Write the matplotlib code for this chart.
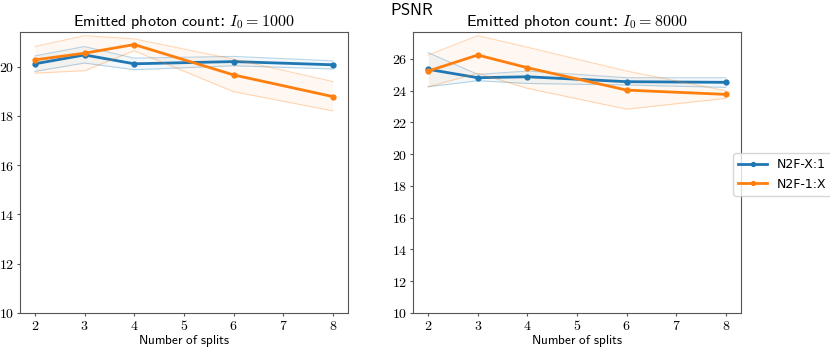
import matplotlib
matplotlib.use("Agg")
import matplotlib.pyplot as plt
from matplotlib.ticker import FuncFormatter

plt.rcParams['mathtext.fontset'] = 'cm'

# ---------------------------------------------------------------------------
# data
# ---------------------------------------------------------------------------
splits = [2, 3, 4, 6, 8]

# I0 = 1000
xto1_1000 = [20.11, 20.47, 20.11, 20.20, 20.07]
xto1_1000_hi = [20.43, 20.81, 20.34, 20.41, 20.23]
xto1_1000_lo = [19.80, 20.14, 19.87, 20.03, 19.90]
oneto_x_1000 = [20.27, 20.54, 20.89, 19.66, 18.78]
oneto_x_1000_hi = [20.81, 21.25, 21.12, 20.30, 19.39]
oneto_x_1000_lo = [19.73, 19.83, 20.64, 18.98, 18.20]

# I0 = 8000
xto1_8000 = [25.35, 24.82, 24.88, 24.57, 24.53]
xto1_8000_hi = [26.40, 25.03, 25.24, 24.82, 24.82]
xto1_8000_lo = [24.25, 24.63, 24.46, 24.36, 24.21]
oneto_x_8000 = [25.24, 26.25, 25.45, 24.04, 23.77]
oneto_x_8000_hi = [26.25, 27.47, 26.74, 25.24, 24.00]
oneto_x_8000_lo = [24.25, 25.10, 24.15, 22.84, 23.52]

labels = ['N2F-X:1', 'N2F-1:X']
titles = [r'$\mathsf{Emitted\ photon\ count}$: $I_0 = 1000$',
          r'$\mathsf{Emitted\ photon\ count}$: $I_0 = 8000$']
ylims = [(10, 21.4), (10, 27.7)]

BLUE = '#1f77b4'
ORANGE = '#ff7f0e'
SPINE = '#555555'

fig = plt.figure(figsize=(8.3, 3.47), dpi=100)
ax1 = fig.add_axes([20 / 830, 34 / 347, 327.7 / 830, 281 / 347])
ax2 = fig.add_axes([413.3 / 830, 34 / 347, 327.4 / 830, 281 / 347])

panels = [
    (ax1, [(xto1_1000, xto1_1000_lo, xto1_1000_hi),
           (oneto_x_1000, oneto_x_1000_lo, oneto_x_1000_hi)]),
    (ax2, [(xto1_8000, xto1_8000_lo, xto1_8000_hi),
           (oneto_x_8000, oneto_x_8000_lo, oneto_x_8000_hi)]),
]

handles = []
for i, (ax, series) in enumerate(panels):
    for (mean, lo, hi), color, label in zip(series, [BLUE, ORANGE], labels):
        ax.fill_between(splits, lo, hi, color=color, alpha=0.05, linewidth=0)
        ax.plot(splits, lo, color=color, alpha=0.3, linewidth=0.8)
        ax.plot(splits, hi, color=color, alpha=0.3, linewidth=0.8)
        line, = ax.plot(splits, mean, color=color, linewidth=2,
                        marker='o', markersize=3.5, label=label)
        if i == 0:
            handles.append(line)

    ax.set_ylim(*ylims[i])
    ax.set_xticks(range(2, 9))
    ax.set_yticks(range(10, int(ylims[i][1]) + 1, 2))
    fmt = FuncFormatter(lambda v, p: r'$%d$' % v)
    ax.xaxis.set_major_formatter(fmt)
    ax.yaxis.set_major_formatter(fmt)
    ax.tick_params(labelsize=10, length=2.5, width=0.8, color=SPINE, pad=1.5)
    for s in ax.spines.values():
        s.set_color(SPINE)
    ax.set_title(titles[i], fontsize=11.5, pad=4)
    ax.set_xlabel(r'$\mathsf{Number\ of\ splits}$', fontsize=9.5, labelpad=0)

fig.text(0.496, 0.972, r'$\mathsf{PSNR}$', ha='center', va='center', fontsize=12)

fig.legend(handles=handles, loc='center left',
           bbox_to_anchor=(727 / 830, 0.497), fontsize=9,
           frameon=True, handlelength=2.3, borderpad=0.4, markerscale=0.8)

fig.savefig('out.png', dpi=100)
